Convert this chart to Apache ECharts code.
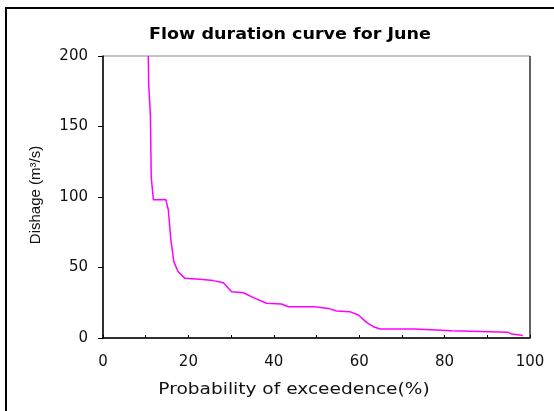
<!DOCTYPE html>
<html><head><meta charset="utf-8">
<script src="https://cdn.jsdelivr.net/npm/echarts@6/dist/echarts.min.js"></script>
<style>html,body{margin:0;padding:0;background:#fff}#c{width:554px;height:411px}</style>
</head><body><div id="c"></div>
<script>
const titleText = 'Flow duration curve for June';
const xName = 'Probability of exceedence(%)';
const yName = 'Dishage (m³/s)';
const xTicks = [0, 20, 40, 60, 80, 100];
const yTicks = [0, 50, 100, 150, 200];
const probability = [10.6,10.7,11.1,11.3,11.8,14.7,15.3,15.9,16.6,17.6,19.2,22.7,25.8,28.2,30.1,32.9,35.2,38.3,41.8,43.4,49.6,52.8,54.7,57.8,59.8,61.8,63.3,64.9,73.1,73.5,81.7,82.0,94.9,95.7,98.1,98.3];
const discharge   = [200,180,158,114,98,98.3,90.8,69.5,54,47,42.3,41.6,40.7,39.2,32.8,32.1,28.6,24.6,24.1,22.2,22.2,21,19.1,18.7,16.3,10.9,8,6.4,6.4,5.2,5.2,4,4,2.8,1.9,1.6];

const chart = echarts.init(document.getElementById('c'));
const font = 'Liberation Sans, Arial, sans-serif';
const wide = 'DejaVu Sans, sans-serif';
chart.setOption({
  animation: false,
  grid: {left: 103, right: 24, top: 56, bottom: 73, show: true, borderColor: '#888', borderWidth: 1},
  xAxis: {type: 'value', min: 0, max: 100, interval: 10,
    axisLine: {lineStyle: {color: '#000', width: 1.5}},
    axisTick: {inside: true, length: 3, lineStyle: {color: '#000'}},
    axisLabel: {fontFamily: wide, fontSize: 15, color: '#111', margin: 17,
      formatter: v => xTicks.includes(v) ? String(v) : ''},
    splitLine: {show: false}},
  yAxis: {type: 'value', min: 0, max: 200, interval: 50,
    axisLine: {show: true, lineStyle: {color: '#000', width: 1.5}},
    axisTick: {show: true, length: 5, lineStyle: {color: '#000'}},
    axisLabel: {fontFamily: wide, fontSize: 15, color: '#111', margin: 15,
      formatter: v => yTicks.includes(v) ? String(v) : ''},
    splitLine: {show: false}},
  graphic: [
    {type: 'rect', shape: {x: 6, y: 8, width: 600, height: 450}, style: {fill: 'none', stroke: '#000', lineWidth: 2}, silent: true},
    {type: 'line', shape: {x1: 530, y1: 56, x2: 530, y2: 338}, style: {stroke: '#222', lineWidth: 1.2}, z: 10},
    {type: 'text', x: 290, y: 35, scaleX: 1.17, style: {text: titleText, fontFamily: wide, fontSize: 15, fontWeight: 'bold', fill: '#000', align: 'center', verticalAlign: 'middle'}},
    {type: 'text', x: 294, y: 390, scaleX: 1.16, style: {text: xName, fontFamily: wide, fontSize: 16, fill: '#111', align: 'center', verticalAlign: 'middle'}},
    {type: 'text', x: 36, y: 195, rotation: Math.PI / 2, style: {text: yName, fontFamily: font, fontSize: 15, fill: '#111', align: 'center', verticalAlign: 'middle'}}
  ],
  series: [{type: 'line', data: probability.map((p, i) => [p, discharge[i]]), showSymbol: false,
    lineStyle: {color: '#FF00FF', width: 1.5}, clip: true}]
});
</script></body></html>
